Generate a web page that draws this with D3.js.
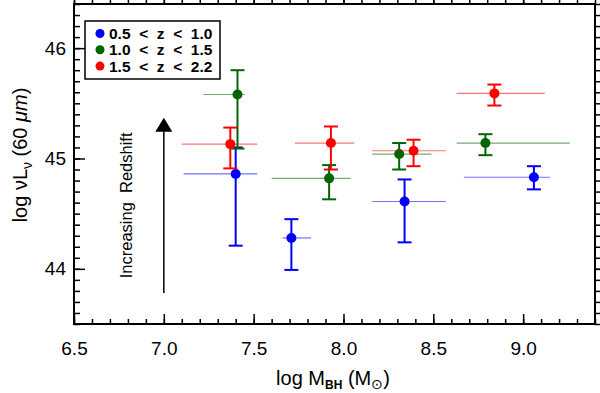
<!DOCTYPE html>
<html>
<head>
<meta charset="utf-8">
<script src="https://cdn.jsdelivr.net/npm/d3@7"></script>
<style>
    body { margin: 0; background: #fff; }
    svg { display: block; font-family: "Liberation Sans", Arial, sans-serif; }
    .axis path { display: none; }
    .axis line { stroke: #000; stroke-width: 1.5; }
    .frame { fill: none; stroke: #000; stroke-width: 2; }
</style>
</head>
<body>
<svg></svg>
<script>
//-------------------
// DATA
//-------------------
var seriesNames = ["0.5 < z < 1.0", "1.0 < z < 1.5", "1.5 < z < 2.2"];
var seriesColors = ["#0000ff", "#006400", "#ff0000"];

var blueMass = [7.40, 7.71, 8.34, 9.06],
    blueMassLo = [7.11, 7.66, 8.16, 8.67],
    blueMassHi = [7.52, 7.82, 8.57, 9.15],
    blueLum = [44.86, 44.28, 44.61, 44.83],
    blueLumLo = [44.21, 43.99, 44.24, 44.72],
    blueLumHi = [45.10, 44.45, 44.81, 44.93];

var greenMass = [7.41, 7.92, 8.31, 8.79],
    greenMassLo = [7.22, 7.60, 8.16, 8.63],
    greenMassHi = [7.45, 8.04, 8.49, 9.26],
    greenLum = [45.58, 44.82, 45.04, 45.14],
    greenLumLo = [45.09, 44.63, 44.90, 45.03],
    greenLumHi = [45.80, 44.94, 45.14, 45.22];

var redMass = [7.37, 7.93, 8.39, 8.84],
    redMassLo = [7.10, 7.73, 8.16, 8.63],
    redMassHi = [7.52, 8.06, 8.57, 9.12],
    redLum = [45.13, 45.14, 45.07, 45.59],
    redLumLo = [44.91, 44.90, 44.93, 45.48],
    redLumHi = [45.28, 45.29, 45.17, 45.67];

var xMajorTicks = [6.5, 7.0, 7.5, 8.0, 8.5, 9.0];
var yMajorTicks = [44, 45, 46];
var arrowX = 7.0, arrowFrom = 43.78, arrowTo = 45.37;

//-------------------
// SETUP
//-------------------
var width = 600, height = 393;
var margin = { left: 74, right: 5, top: 4, bottom: 69 };

var svg = d3.select("svg")
    .attr("width", width)
    .attr("height", height);

var x = d3.scaleLinear().domain([6.5, 9.4]).range([margin.left, width - margin.right]);
var y = d3.scaleLinear().domain([43.5, 46.4]).range([height - margin.bottom, margin.top]);

function zip(mass, lo, hi, lum, lumLo, lumHi) {
    return mass.map((m, i) => ({ m: m, mLo: lo[i], mHi: hi[i], l: lum[i], lLo: lumLo[i], lHi: lumHi[i] }));
}

var series = [
    zip(blueMass, blueMassLo, blueMassHi, blueLum, blueLumLo, blueLumHi),
    zip(greenMass, greenMassLo, greenMassHi, greenLum, greenLumLo, greenLumHi),
    zip(redMass, redMassLo, redMassHi, redLum, redLumLo, redLumHi)
];

//-------------------
// AXES (ticks on all four sides, pointing in)
//-------------------
var xMinor = d3.range(65, 95).map(d => d / 10);
var yMinor = d3.range(435, 465).map(d => d / 10);
var plotW = x.range()[1] - x.range()[0];
var plotH = y.range()[0] - y.range()[1];

function drawAxis(axisFn, scale, values, size, transform, fmt, pad) {
    var a = axisFn(scale).tickValues(values).tickSizeInner(-size).tickSizeOuter(0)
        .tickPadding(pad || 0).tickFormat(fmt ? d3.format(fmt) : "");
    var g = svg.append("g").attr("class", "axis").attr("transform", transform).call(a);
    g.selectAll("text").style("font-size", "19px").attr("fill", "#000");
    return g;
}

var bottomT = "translate(0," + y.range()[0] + ")",
    topT = "translate(0," + y.range()[1] + ")",
    leftT = "translate(" + x.range()[0] + ",0)",
    rightT = "translate(" + x.range()[1] + ",0)";

drawAxis(d3.axisBottom, x, xMinor, 5, bottomT);
drawAxis(d3.axisBottom, x, xMajorTicks, 10, bottomT, ".1f", 18);
drawAxis(d3.axisTop, x, xMinor, -5, topT);
drawAxis(d3.axisTop, x, xMajorTicks, -10, topT);
drawAxis(d3.axisLeft, y, yMinor, 6, leftT);
drawAxis(d3.axisLeft, y, yMajorTicks, 11, leftT, "d", 8);
drawAxis(d3.axisRight, y, yMinor, -6, rightT);
drawAxis(d3.axisRight, y, yMajorTicks, -11, rightT);

svg.append("rect").attr("class", "frame")
    .attr("x", x.range()[0]).attr("y", y.range()[1])
    .attr("width", plotW).attr("height", plotH);

// axis titles
var xt = svg.append("text")
    .attr("x", 333)
    .attr("y", 385)
    .attr("text-anchor", "middle")
    .style("font-size", "20px");
xt.append("tspan").text("log M");
xt.append("tspan").attr("dy", 4).style("font-size", "12px").style("font-weight", "bold").text("BH");
xt.append("tspan").attr("dy", -4).text(" (M");
xt.append("tspan").attr("dy", 4).style("font-size", "14px").text("\u2299");
xt.append("tspan").attr("dy", -4).text(")");

var yt = svg.append("text")
    .attr("transform", "translate(27," + 155 + ") rotate(-90)")
    .attr("text-anchor", "middle")
    .style("font-size", "20px");
yt.append("tspan").text("log \u03bdL");
yt.append("tspan").attr("dy", 5).style("font-size", "14px").text("\u03bd");
yt.append("tspan").attr("dy", -5).text(" (60 ");
yt.append("tspan").style("font-style", "italic").text("\u03bcm");
yt.append("tspan").text(")");

//-------------------
// ARROW
//-------------------
svg.append("line")
    .attr("x1", x(arrowX)).attr("x2", x(arrowX))
    .attr("y1", y(arrowFrom)).attr("y2", y(arrowTo) + 12)
    .attr("stroke", "#000").attr("stroke-width", 1.5);
svg.append("path")
    .attr("d", "M" + x(arrowX) + "," + y(arrowTo) + " l-8.5,14 l17,0 z")
    .attr("fill", "#000");
svg.append("text")
    .attr("transform", "translate(132," + (y(arrowFrom) + y(arrowTo)) / 2 + ") rotate(-90)")
    .attr("text-anchor", "middle")
    .style("font-size", "16.5px")
    .attr("xml:space", "preserve")
    .text("Increasing  Redshift");

//-------------------
// ERROR BARS + POINTS
//-------------------
series.forEach((data, si) => {
    var c = seriesColors[si];
    var g = svg.append("g");
    g.selectAll("line.h").data(data).enter().append("line")
        .attr("x1", d => x(d.mLo)).attr("x2", d => x(d.mHi))
        .attr("y1", d => y(d.l)).attr("y2", d => y(d.l))
        .attr("stroke", c).attr("stroke-width", 1.2).attr("stroke-opacity", 0.55);
    g.selectAll("line.v").data(data).enter().append("line")
        .attr("x1", d => x(d.m)).attr("x2", d => x(d.m))
        .attr("y1", d => y(d.lLo)).attr("y2", d => y(d.lHi))
        .attr("stroke", c).attr("stroke-width", 2);
    ["lLo", "lHi"].forEach(k => {
        g.selectAll("line.cap" + k).data(data).enter().append("line")
            .attr("x1", d => x(d.m) - 7).attr("x2", d => x(d.m) + 7)
            .attr("y1", d => y(d[k])).attr("y2", d => y(d[k]))
            .attr("stroke", c).attr("stroke-width", 2);
    });
    g.selectAll("circle").data(data).enter().append("circle")
        .attr("cx", d => x(d.m)).attr("cy", d => y(d.l))
        .attr("r", 5).attr("fill", c);
});

//-------------------
// LEGEND
//-------------------
var legend = svg.append("g");
legend.append("rect")
    .attr("x", 85).attr("y", 21).attr("width", 135).attr("height", 58)
    .attr("fill", "#fff").attr("stroke", "#000").attr("stroke-width", 1.5);
seriesNames.forEach((name, i) => {
    var ly = 33.5 + i * 16.3;
    legend.append("circle").attr("cx", 100).attr("cy", ly).attr("r", 4.5).attr("fill", seriesColors[i]);
    legend.append("text").attr("x", 109).attr("y", ly + 5.5)
        .style("font-size", "15.5px").style("font-weight", "bold")
        .attr("xml:space", "preserve")
        .text(name.replace(/ < /g, "  <  "));
});
</script>
</body>
</html>
